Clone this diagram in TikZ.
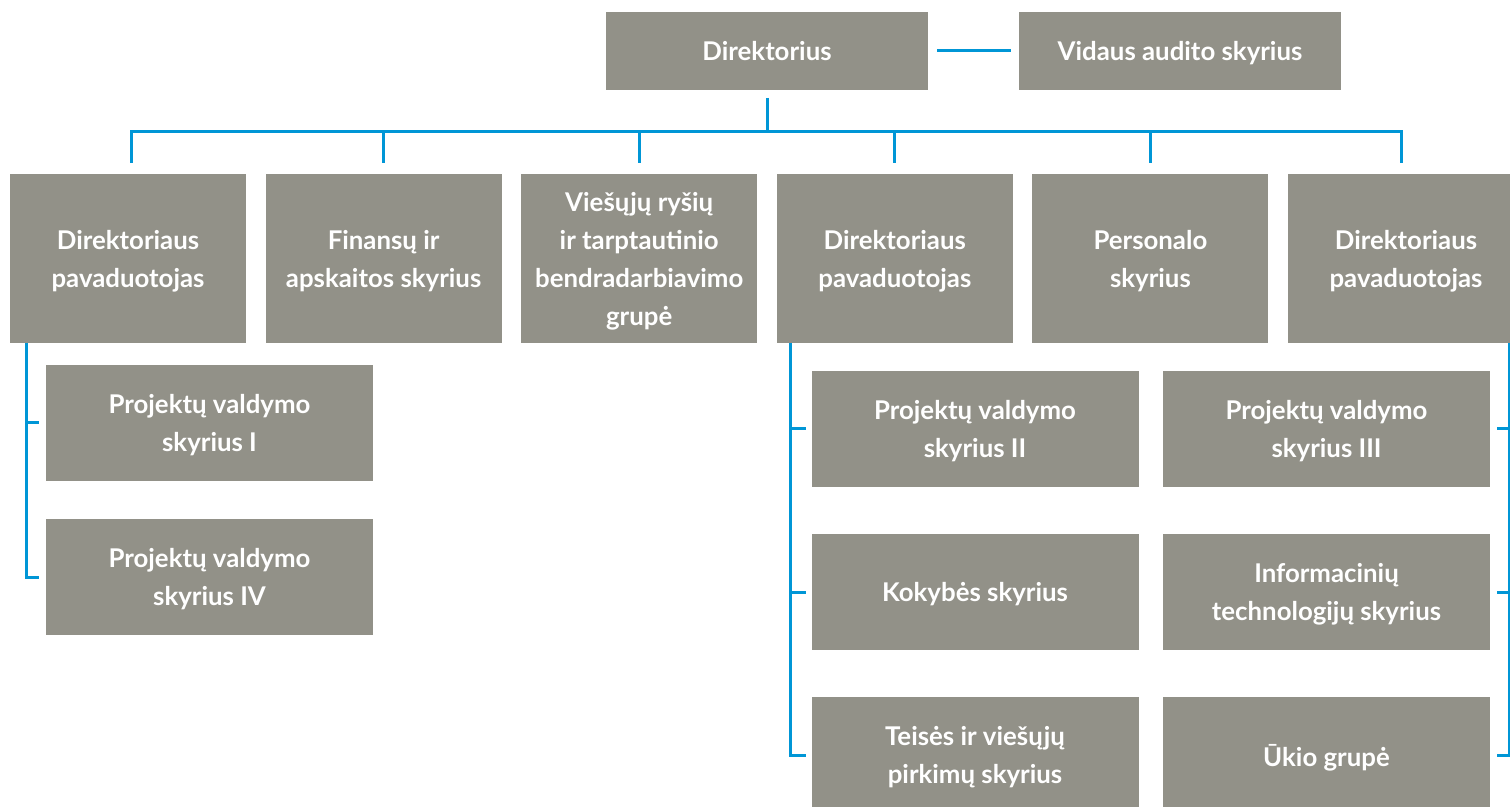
\documentclass[tikz,border=0pt]{standalone}
\usepackage{fontspec}
\setmainfont{Lato}
\usepackage{tikz}
\usetikzlibrary{positioning}
\definecolor{unitgray}{RGB}{146,145,136}
\definecolor{linkblue}{RGB}{0,150,214}

\begin{document}
\begin{tikzpicture}[
  x=0.5pt, y=-0.5pt,
  font=\bfseries\fontsize{12.9}{19}\selectfont,
  box/.style={fill=unitgray, text=white, align=center, inner sep=0pt, outer sep=0pt, text depth=0pt},
  head/.style={box, minimum width=161pt, minimum height=39pt},
  unit/.style={box, minimum width=118pt, minimum height=84.5pt},
  sub/.style={box, minimum width=163.5pt, minimum height=58pt},
  ln/.style={draw=linkblue, line width=1.5pt}
]
\useasboundingbox (0,0) rectangle (1510,807);
\clip (0,0) rectangle (1510,807);

% top
\node[head] (dir) at (767,51) {Direktorius};
\node[head, right=45.5pt of dir] (audit) {Vidaus audito skyrius};

% second row
\node[unit] (u1) at (128,258.5) {Direktoriaus\\pavaduotojas};
\node[unit, right=9.8pt of u1] (u2) {Finansų ir\\apskaitos skyrius};
\node[unit, right=9.8pt of u2] (u3) {Viešųjų ryšių\\ir tarptautinio\\bendradarbiavimo\\grupė};
\node[unit, right=9.8pt of u3] (u4) {Direktoriaus\\pavaduotojas};
\node[unit, right=9.8pt of u4] (u5) {Personalo\\skyrius};
\node[unit, right=9.8pt of u5] (u6) {Direktoriaus\\pavaduotojas};

% departments
\node[sub] (p1) at (209.5,423) {Projektų valdymo\\skyrius I};
\node[sub, below=19pt of p1] (p4) {Projektų valdymo\\skyrius IV};
\node[sub] (p2) at (975,429) {Projektų valdymo\\skyrius II};
\node[sub, below=23.5pt of p2] (kok) {Kokybės skyrius};
\node[sub, below=23.5pt of kok] (teis) {Teisės ir viešųjų\\pirkimų skyrius};
\node[sub] (p3) at (1326.5,429) {Projektų valdymo\\skyrius III};
\node[sub, below=23.5pt of p3] (it) {Informacinių\\technologijų skyrius};
\node[sub, below=23.5pt of it] (ukis) {Ūkio grupė};

% links
\draw[ln] ([xshift=4.5pt]dir.east) -- ([xshift=-4pt]audit.west);
\coordinate (bus) at (767,132);
\draw[ln] ([yshift=-4pt]dir.south) -- (bus);
\draw[ln] ([xshift=1.5pt,yshift=5.5pt]u1.north) |- (bus) -| ([xshift=-2.5pt,yshift=5.5pt]u6.north);
\foreach \u in {u2,u3,u4,u5}
  \draw[ln] (\u.north |- bus) -- ([yshift=5.5pt]\u.north);

\coordinate (lb) at ([xshift=8pt]u1.south west);
\draw[ln] (lb) |- ([xshift=-3.5pt]p4.west);
\draw[ln] (lb |- p1.west) -- ([xshift=-3.5pt]p1.west);

\coordinate (mb) at ([xshift=7pt]u4.south west);
\draw[ln] (mb) |- ([xshift=-3pt]teis.west);
\foreach \d in {p2,kok}
  \draw[ln] (mb |- \d.west) -- ([xshift=-3pt]\d.west);

\coordinate (rb) at ([xshift=-7.5pt]u6.south east);
\draw[ln] (rb) |- ([xshift=3.5pt]ukis.east);
\foreach \d in {p3,it}
  \draw[ln] (rb |- \d.east) -- ([xshift=3.5pt]\d.east);
\end{tikzpicture}
\end{document}
